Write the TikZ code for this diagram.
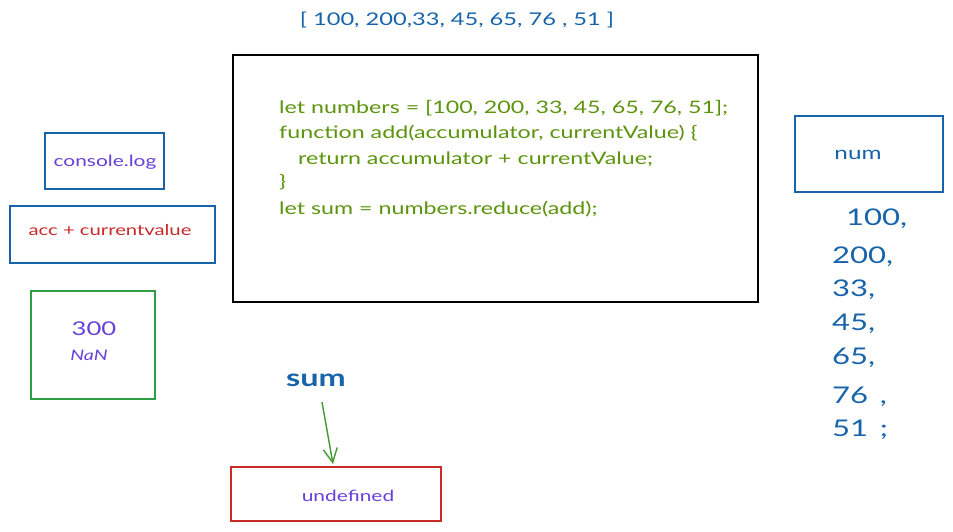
\documentclass[tikz,border=0pt]{standalone}
\usepackage{fontspec}
\setmainfont{Lato}
\newfontfamily\hand[FakeStretch=1.35]{Lato}
\usetikzlibrary{arrows.meta}
\definecolor{exblue}{HTML}{1864AB}
\definecolor{expurple}{HTML}{6741D9}
\definecolor{exred}{HTML}{C92A2A}
\definecolor{exgreen}{HTML}{2F9E44}
\definecolor{excode}{HTML}{5C940D}
\tikzset{
  box/.style={draw, line width=1.1pt, inner sep=0pt},
  codeline/.style={anchor=west, text=excode, font=\hand\fontsize{17.2}{20}\selectfont, inner sep=0pt},
  numtxt/.style={anchor=west, text=exblue, font=\hand\fontsize{23}{28}\selectfont, inner sep=0pt},
}
\begin{document}
\begin{tikzpicture}[x=1pt,y=-1pt]
\useasboundingbox[fill=white] (0,0) rectangle (953,531);
% top array
\node[text=exblue, font=\hand\fontsize{17.5}{20}\selectfont] (arr) at (457,20) {[ 100, 200,33, 45, 65, 76 , 51 ]};
% main code box
\node[box, draw=black, minimum width=525pt, minimum height=247pt] (code) at (495.5,178.5) {};
\node[codeline] (l1) at (279,108) {let numbers = [100, 200, 33, 45, 65, 76, 51];};
\node[codeline] (l2) at (279,133) {function add(accumulator, currentValue) \{};
\node[codeline] (l3) at (298,159) {return accumulator + currentValue;};
\node[codeline] (l4) at (279,182) {\}};
\node[codeline] (l5) at (279,209) {let sum = numbers.reduce(add);};
% left boxes
\node[box, draw=exblue, minimum width=119pt, minimum height=56pt] (clog) at (104.5,161) {};
\node[text=expurple, font=\hand\fontsize{15.5}{17}\selectfont] (clogt) at (105,162) {console.log};
\node[box, draw=exblue, minimum width=205pt, minimum height=57pt] (acc) at (112.5,234.5) {};
\node[text=exred, font=\hand\fontsize{15}{17}\selectfont] (acct) at (110,230) {acc + currentvalue};
\node[box, draw=exgreen, minimum width=124pt, minimum height=108pt] (res) at (93,345) {};
\node[text=expurple, font=\hand\fontsize{19}{20}\selectfont] (r1) at (94,329) {300};
\node[text=expurple, font=\hand\itshape\fontsize{14.5}{17}\selectfont] (r2) at (89,355) {NaN};
% num box
\node[box, draw=exblue, minimum width=148pt, minimum height=76pt] (num) at (869,154) {};
\node[text=exblue, font=\hand\fontsize{18}{20}\selectfont] (numt) at (858,155) {num};
\node[numtxt] (n1) at (846,219) {100,};
\node[numtxt] (n2) at (832,257) {200,};
\node[numtxt] (n3) at (832,290) {33,};
\node[numtxt] (n4) at (832,324) {45,};
\node[numtxt] (n5) at (832,358) {65,};
\node[numtxt] (n6) at (832,397) {76 \,,};
\node[numtxt] (n7) at (832,430) {51 \,;};
% sum
\node[text=exblue, font=\hand\bfseries\fontsize{24}{27}\selectfont, inner sep=0pt] (sum) at (316,380) {sum};
\node[box, draw=exred, minimum width=210pt, minimum height=54pt] (undef) at (336,494) {};
\node[text=expurple, font=\hand\fontsize{15.5}{19}\selectfont] (undeft) at (348,496) {undefined};
\coordinate (as) at (322,402);
\coordinate (ae) at (333,464);
\draw[exgreen!60!excode, line width=1.4pt, -{Straight Barb[length=14pt,width=14pt]}] (as) -- (ae);
\end{tikzpicture}
\end{document}
